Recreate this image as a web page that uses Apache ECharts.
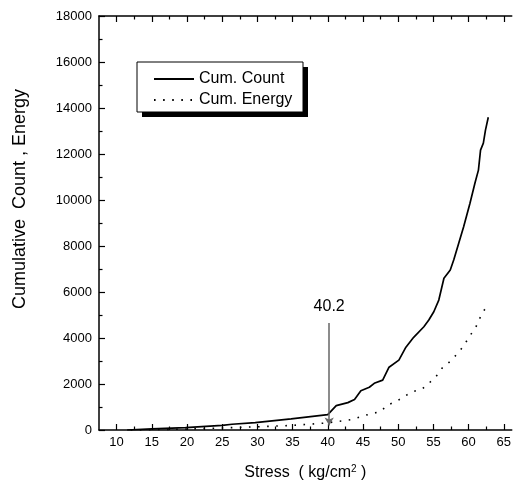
<!DOCTYPE html>
<html>
<head>
<meta charset="utf-8">
<title>Cumulative Count, Energy</title>
<script src="https://cdn.jsdelivr.net/npm/echarts@6/dist/echarts.min.js"></script>
<style>
  html, body { margin: 0; padding: 0; background: #fff; }
  #main { width: 514px; height: 490px; }
</style>
</head>
<body>
<div id="main"></div>
<script>
  // 累积计数曲线 (实线)
  var countStress = [11.5, 15, 19.8, 25, 26.4, 29.7, 34.8, 40.0, 40.27, 41.2, 42.85, 43.8, 44.7, 45.9, 46.6,
    47.8, 48.7, 50.1, 51.1, 52.2, 53.65, 54.35, 55.06, 55.77, 56.5, 57.4, 57.9, 58.6, 59.3, 60.2, 60.9,
    61.4, 61.7, 62.1, 62.4, 62.8];
  var countValues = [0, 50, 100, 200, 250, 320, 480, 670, 690, 1060, 1190, 1330, 1710, 1860, 2030,
    2170, 2730, 3040, 3600, 4030, 4490, 4780, 5140, 5650, 6600, 6960, 7400, 8120, 8840, 9860, 10730,
    11300, 12170, 12470, 13040, 13600];

  // 累积能量曲线 (点线)
  var energyStress = [12, 20, 25, 30, 35, 40, 41, 42.3, 43.6, 45, 46.2, 47.5, 48.5, 49.7, 50.8, 52.1,
    53.4, 54.35, 55.3, 56.2, 57.3, 58.3, 59.3, 60.1, 61.0, 61.6, 62.3];
  var energyValues = [0, 40, 90, 140, 200, 310, 360, 400, 470, 610, 710, 800, 1090, 1230, 1450, 1670,
    1780, 2030, 2290, 2680, 2960, 3280, 3650, 4060, 4450, 4860, 5250];

  // 刻度
  var xMajorTicks = [10, 15, 20, 25, 30, 35, 40, 45, 50, 55, 60, 65];
  var xMinorTicks = [12.5, 17.5, 22.5, 27.5, 32.5, 37.5, 42.5, 47.5, 52.5, 57.5, 62.5];

  // 标注 40.2
  var markStress = 40.2;
  var markTop = 4650;
  var markBottom = 200;

  function zip(xs, ys) {
    return xs.map(function (x, i) { return [x, ys[i]]; });
  }

  var font = 'Liberation Sans, Arial, sans-serif';
  var black = '#000';

  function xAxisDef(pos, ticks, len, withLine) {
    return {
      type: 'value',
      position: pos,
      min: 7.5,
      max: 66.13,
      axisLine: { show: withLine, onZero: false, lineStyle: { color: black, width: 1.5 } },
      axisTick: { show: true, inside: true, length: len, customValues: ticks, lineStyle: { color: black, width: 1.2 } },
      axisLabel: { show: false },
      splitLine: { show: false }
    };
  }

  var bottomAxis = xAxisDef('bottom', xMajorTicks, 6, true);
  bottomAxis.axisLabel = {
    show: true, customValues: xMajorTicks, color: black, fontFamily: font, fontSize: 13, margin: 6
  };
  bottomAxis.name = 'Stress  ( kg/cm{sup|2} )';
  bottomAxis.nameLocation = 'middle';
  bottomAxis.nameGap = 34;
  bottomAxis.nameTextStyle = {
    color: black, fontFamily: font, fontSize: 16,
    rich: { sup: { fontSize: 10, fontFamily: font, color: black, verticalAlign: 'top', padding: [0, 0, 8, 0] } }
  };

  var myChart = echarts.init(document.getElementById('main'), null, { renderer: 'canvas' });

  var option = {
    animation: false,
    backgroundColor: '#fff',
    grid: { left: 99, right: 0, top: 16, bottom: 60, containLabel: false },
    graphic: [
      { type: 'rect', z: 0, shape: { x: 142, y: 67, width: 166, height: 50 }, style: { fill: black } },
      { type: 'rect', z: 1, shape: { x: 137, y: 62, width: 166, height: 50 }, style: { fill: '#fff', stroke: black, lineWidth: 1 } }
    ],
    legend: {
      z: 10,
      orient: 'vertical',
      left: 153,
      top: 71,
      padding: 0,
      itemWidth: 40,
      itemHeight: 14,
      itemGap: 5,
      // 只显示线段，不显示圆点
      itemStyle: { opacity: 0 },
      textStyle: { color: black, fontFamily: font, fontSize: 16 },
      data: ['Cum. Count', 'Cum. Energy']
    },
    xAxis: [
      bottomAxis,
      xAxisDef('bottom', xMinorTicks, 3.5, false),
      xAxisDef('top', xMajorTicks, 6, true),
      xAxisDef('top', xMinorTicks, 3.5, false)
    ],
    yAxis: {
      type: 'value',
      min: 0,
      max: 18000,
      interval: 2000,
      axisLine: { show: true, lineStyle: { color: black, width: 1.5 } },
      axisTick: { inside: true, length: 6, lineStyle: { color: black, width: 1.2 } },
      minorTick: { show: true, splitNumber: 2, length: 3.5, lineStyle: { color: black, width: 1.2 } },
      axisLabel: {
        color: black, fontFamily: font, fontSize: 13, margin: 7,
        formatter: function (v) { return String(v); }
      },
      splitLine: { show: false },
      name: 'Cumulative  Count , Energy',
      nameLocation: 'middle',
      nameGap: 70,
      nameTextStyle: { color: black, fontFamily: font, fontSize: 18, padding: [0, 0, 0, 48] }
    },
    series: [
      {
        name: 'Cum. Count',
        type: 'line',
        xAxisIndex: 0,
        symbol: 'none',
        data: zip(countStress, countValues),
        lineStyle: { color: black, width: 1.7 },
        itemStyle: { color: black },
        markLine: {
          silent: true,
          symbol: ['none', 'arrow'],
          symbolSize: [7, 8],
          lineStyle: { color: '#666', width: 1.5, type: 'solid' },
          label: { show: true, position: 'start', distance: 8, formatter: '40.2', color: black, fontFamily: font, fontSize: 16 },
          data: [[{ coord: [markStress, markTop] }, { coord: [markStress, markBottom] }]]
        }
      },
      {
        name: 'Cum. Energy',
        type: 'line',
        xAxisIndex: 0,
        symbol: 'none',
        data: zip(energyStress, energyValues),
        lineStyle: { color: black, width: 1.6, type: [1.6, 7.5] },
        itemStyle: { color: black }
      }
    ]
  };

  myChart.setOption(option);
</script>
</body>
</html>
